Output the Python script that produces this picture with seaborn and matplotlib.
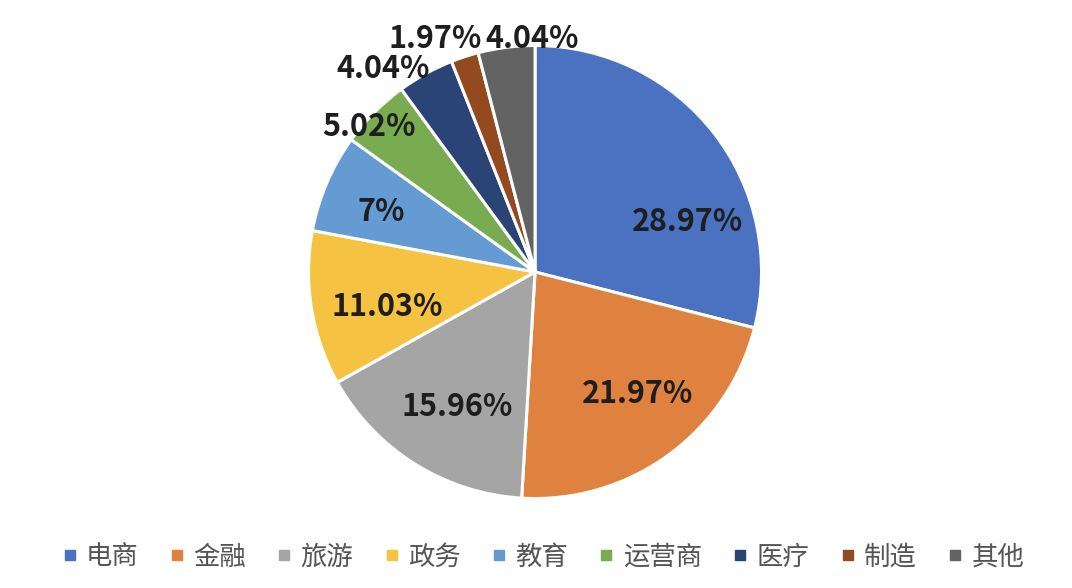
import numpy as np
import matplotlib
matplotlib.use("Agg")
import matplotlib.pyplot as plt
import seaborn as sns
from matplotlib.lines import Line2D

# data
categories = ["电商", "金融", "旅游", "政务", "教育", "运营商", "医疗", "制造", "其他"]
shares = [28.97, 21.97, 15.96, 11.03, 7.0, 5.02, 4.04, 1.97, 4.04]
labels = ["28.97%", "21.97%", "15.96%", "11.03%", "7%", "5.02%", "4.04%", "1.97%", "4.04%"]
colors = ["#4A72C0", "#E0823F", "#A5A5A5", "#F6C242", "#659BD3",
          "#79AC50", "#2A4476", "#934A1F", "#636363"]

# label centres (pie radius = 1)
label_pos = [(0.675, 0.221), (0.451, -0.538), (-0.344, -0.595), (-0.653, -0.155),
             (-0.680, 0.265), (-0.733, 0.640), (-0.671, 0.896), (-0.442, 1.029),
             (-0.013, 1.029)]

sns.set_theme(style="white")
plt.rcParams["font.family"] = ["Noto Sans CJK SC", "DejaVu Sans"]

fig = plt.figure(figsize=(10.72, 5.88), dpi=100)
ax = fig.add_axes([0.2878, 0.1522, 0.4226, 0.7704])

palette = sns.color_palette(colors)
wedges, _ = ax.pie(shares, colors=palette, startangle=90, counterclock=False,
                   wedgeprops=dict(edgecolor="white", linewidth=2.2))
ax.set_xlim(-1, 1)
ax.set_ylim(-1, 1)
ax.set_aspect("equal")
ax.axis("off")

for lab, (x, y) in zip(labels, label_pos):
    ax.text(x, y, lab, ha="center", va="center", fontsize=22,
            fontweight="bold", color="#1e1e1e")

handles = [Line2D([], [], marker="s", linestyle="none", markersize=6.5,
                  markerfacecolor=c, markeredgecolor=c) for c in palette]
fig.legend(handles, categories, loc="center", bbox_to_anchor=(0.507, 31 / 588),
           ncol=len(categories), frameon=False, fontsize=19,
           handlelength=0.5, handletextpad=0.37, columnspacing=1.2,
           labelcolor="#555555")

fig.savefig("out.png", dpi=100)
